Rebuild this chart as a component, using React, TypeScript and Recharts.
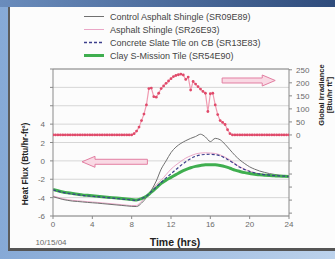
import React from 'react';
import { LineChart, Line, XAxis, YAxis, CartesianGrid, ReferenceLine, Legend, Label } from 'recharts';

// time of day (hrs), every half hour
const hours = [
  0, 0.5, 1, 1.5, 2, 2.5, 3, 3.5, 4, 4.5, 5, 5.5, 6, 6.5, 7, 7.5, 8, 8.5,
  9, 9.5, 10, 10.5, 11, 11.5, 12, 12.5, 13, 13.5, 14, 14.5, 15, 15.5, 16, 16.5,
  17, 17.5, 18, 18.5, 19, 19.5, 20, 20.5, 21, 21.5, 22, 22.5, 23, 23.5, 24,
];

// heat flux, Btu/hr-ft2
const controlAsphalt = [
  -3.9, -4.05, -4.2, -4.3, -4.38, -4.42, -4.47, -4.52, -4.56, -4.6, -4.65, -4.7, -4.75, -4.8, -4.85, -4.9, -4.95, -4.97,
  -4.6, -4.0, -3.2, -2.2, -0.9, 0.0, 0.9, 1.5, 1.9, 2.2, 2.45, 2.65, 2.9, 2.6, 2.1, 2.45,
  2.3, 1.8, 1.2, 0.6, 0.1, -0.3, -0.65, -0.9, -1.1, -1.25, -1.38, -1.47, -1.55, -1.6, -1.65,
];
const asphaltShingle = [
  -3.82, -3.97, -4.12, -4.22, -4.3, -4.34, -4.39, -4.44, -4.48, -4.52, -4.57, -4.62, -4.67, -4.72, -4.77, -4.82, -4.87, -4.85,
  -4.4, -3.85, -3.2, -2.6, -2.1, -1.5, -0.9, -0.45, -0.05, 0.3, 0.55, 0.75, 0.85, 0.88, 0.85, 0.8,
  0.65, 0.4, 0.1, -0.3, -0.65, -0.92, -1.12, -1.28, -1.4, -1.48, -1.54, -1.59, -1.62, -1.65, -1.68,
];
const concreteSlate = [
  -3.15, -3.3, -3.43, -3.53, -3.61, -3.68, -3.75, -3.8, -3.85, -3.9, -3.95, -4.0, -4.05, -4.1, -4.15, -4.2, -4.25, -4.3,
  -4.1, -3.85, -3.35, -2.85, -2.35, -1.85, -1.4, -0.95, -0.5, -0.1, 0.25, 0.5, 0.65, 0.7, 0.72, 0.68,
  0.55, 0.3, 0.0, -0.35, -0.7, -0.95, -1.15, -1.3, -1.42, -1.5, -1.55, -1.6, -1.63, -1.66, -1.7,
];
const claySMission = [
  -3.1, -3.25, -3.38, -3.48, -3.56, -3.63, -3.7, -3.75, -3.8, -3.85, -3.9, -3.95, -4.0, -4.05, -4.1, -4.15, -4.2, -4.25,
  -4.1, -3.85, -3.4, -2.95, -2.45, -2.1, -1.8, -1.5, -1.2, -0.95, -0.75, -0.6, -0.5, -0.43, -0.42, -0.43,
  -0.5, -0.62, -0.8, -1.0, -1.15, -1.28, -1.38, -1.45, -1.52, -1.56, -1.6, -1.63, -1.66, -1.68, -1.7,
];

// global irradiance, Btu/hr ft2, every quarter hour
const irrHours = [
  0, 0.25, 0.5, 0.75, 1, 1.25, 1.5, 1.75, 2, 2.25, 2.5, 2.75, 3, 3.25, 3.5, 3.75,
  4, 4.25, 4.5, 4.75, 5, 5.25, 5.5, 5.75, 6, 6.25, 6.5, 6.75, 7, 7.25, 7.5, 7.75, 8,
  8.25, 8.5, 8.75, 9, 9.25, 9.5, 9.75, 10, 10.25, 10.5, 10.75, 11, 11.25, 11.5, 11.75,
  12, 12.25, 12.5, 12.75, 13, 13.25, 13.5, 13.75, 14, 14.25, 14.5, 14.75, 15, 15.25, 15.5, 15.75,
  16, 16.25, 16.5, 16.75, 17, 17.25, 17.5, 17.75, 18, 18.25,
  18.5, 18.75, 19, 19.25, 19.5, 19.75, 20, 20.25, 20.5, 20.75, 21, 21.25, 21.5, 21.75,
  22, 22.25, 22.5, 22.75, 23, 23.25, 23.5, 23.75, 24,
];
const irradiance = [
  0, 0, 0, 0, 0, 0, 0, 0, 0, 0, 0, 0, 0, 0, 0, 0,
  0, 0, 0, 0, 0, 0, 0, 0, 0, 0, 0, 0, 0, 0, 0, 0, 0,
  5, 15, 30, 55, 80, 115, 178, 180, 147, 145, 160, 178, 188, 198, 207,
  216, 224, 228, 231, 233, 230, 213, 222, 172, 205, 195, 185, 176, 167, 160, 90,
  158, 160, 115, 78, 55, 48, 40, 20, 5, 0,
  0, 0, 0, 0, 0, 0, 0, 0, 0, 0, 0, 0, 0, 0,
  0, 0, 0, 0, 0, 0, 0, 0, 0,
];

const seriesNames = [
  'Control Asphalt Shingle (SR09E89)',
  'Asphalt Shingle (SR26E93)',
  'Concrete Slate Tile on CB (SR13E83)',
  'Clay S-Mission Tile (SR54E90)',
];

const timeTicks = [0, 4, 8, 12, 16, 20, 24];
const fluxTicks = [-6, -4, -2, 0, 2, 4, 6, 8, 10];
const fluxLabels = [-6, -4, -2, 0, 2, 4];
const irrTicks = [-300, -250, -200, -150, -100, -50, 0, 50, 100, 150, 200, 250];
const irrLabels = [0, 50, 100, 150, 200, 250];

const fluxData = hours.map((t, i) => ({
  t,
  control: controlAsphalt[i],
  asphalt: asphaltShingle[i],
  concrete: concreteSlate[i],
  clay: claySMission[i],
}));
const irrData = irrHours.map((t, i) => ({ t, irr: irradiance[i] }));

const FONT = 'Arial, "Liberation Sans", sans-serif';
const TICK = '#6a6a6a';

const legendStyles = [
  { stroke: '#707070', width: 1, dash: undefined },
  { stroke: '#eaa6c6', width: 1, dash: undefined },
  { stroke: '#3c3f8c', width: 1.3, dash: '3 2' },
  { stroke: '#3fae4f', width: 3, dash: undefined },
];

const renderLegend = () => (
  <div style={{ fontFamily: FONT, fontSize: 9, color: '#444' }}>
    {seriesNames.map((name, i) => (
      <div key={name} style={{ display: 'flex', alignItems: 'center', height: 13 }}>
        <svg width={24} height={13} style={{ marginRight: 4 }}>
          <line x1={2} y1={6.5} x2={22} y2={6.5} stroke={legendStyles[i].stroke}
            strokeWidth={legendStyles[i].width} strokeDasharray={legendStyles[i].dash} />
        </svg>
        <span>{name}</span>
      </div>
    ))}
  </div>
);

const LeftTick = (props: any) => {
  const { x, y, payload } = props;
  if (!fluxLabels.includes(payload.value)) return <g />;
  return (
    <text x={x} y={y} dy={3} textAnchor="end" fontSize={8} fill={TICK} fontFamily={FONT}>
      {payload.value}
    </text>
  );
};

const RightTick = (props: any) => {
  const { x, y, payload } = props;
  if (!irrLabels.includes(payload.value)) return <g />;
  return (
    <text x={x} y={y} dy={3} textAnchor="start" fontSize={8} fill={TICK} fontFamily={FONT}>
      {payload.value}
    </text>
  );
};

const BottomTick = (props: any) => {
  const { x, y, payload } = props;
  return (
    <text x={x} y={y} dy={6} textAnchor="middle" fontSize={8} fill={TICK} fontFamily={FONT}>
      {payload.value}
    </text>
  );
};

// hollow block arrow from (x1,y1) toward (x2,y2)
const Arrow = (props: any) => {
  const { x1, y1, x2 } = props;
  const dir = x2 > x1 ? 1 : -1;
  const head = 13;
  const sh = 2.5;
  const hh = 5.5;
  const bx = x2 - dir * head;
  const pts = [
    [x1, y1 - sh], [bx, y1 - sh], [bx, y1 - hh], [x2, y1], [bx, y1 + hh], [bx, y1 + sh], [x1, y1 + sh],
  ].map((p) => p.join(',')).join(' ');
  return <polygon points={pts} fill="#f9d9e4" stroke="#e27fa2" strokeWidth={1} />;
};

const App = () => {
  return (
    <div style={{ position: 'absolute', left: 0, top: 0, width: 335, height: 259, overflow: 'hidden',
      background: 'linear-gradient(to right, #86a9d6, #bcd2ec)' }}>
      <div style={{ position: 'absolute', left: 0, top: 0, width: 335, height: 7,
        background: 'linear-gradient(to right, #6a8cbc, #2f4c7c)' }} />
      <div style={{ position: 'absolute', left: 8, top: 7, width: 327, height: 244,
        background: '#fcfcfc', borderLeft: '2px solid #5c5c5c', borderBottom: '3px solid #555',
        boxSizing: 'border-box' }} />
      <div style={{ position: 'absolute', left: 0, top: 0 }}>
        <LineChart width={335} height={259} data={fluxData}
          margin={{ top: 69, right: 16, bottom: 23, left: 23 }}>
          <CartesianGrid yAxisId="left" vertical={false} stroke="#d6d6d6" />
          <XAxis dataKey="t" type="number" domain={[0, 24]} ticks={timeTicks} height={20}
            tick={<BottomTick />} tickSize={3} stroke="#8a8a8a" allowDataOverflow>
            <Label content={() => (
              <g fontFamily={FONT}>
                <text x={175} y={246} textAnchor="middle" fontSize={10.5} fontWeight="bold" fill="#222">Time (hrs)</text>
                <text x={51} y={245} textAnchor="middle" fontSize={8} fill={TICK}>10/15/04</text>
              </g>
            )} />
          </XAxis>
          <YAxis yAxisId="left" domain={[-6, 10]} ticks={fluxTicks} width={30} tickSize={3} tickMargin={5}
            tick={<LeftTick />} stroke="#8a8a8a" interval={0}>
            <Label content={() => (
              <text x={25} y={164} transform="rotate(-90 25 164)" textAnchor="middle" dominantBaseline="central"
                fontSize={8.5} fontWeight="bold" fill="#222" fontFamily={FONT}>
                Heat Flux (Btu/hr-ft²)
              </text>
            )} />
          </YAxis>
          <YAxis yAxisId="right" orientation="right" domain={[-311, 253]} ticks={irrTicks} width={30}
            tickSize={3} tickMargin={4} tick={<RightTick />} stroke="#8a8a8a" interval={0}>
            <Label content={() => (
              <g fontFamily={FONT} fontSize={7.5} fontWeight="bold" fill="#222">
                <text x={321} y={95} transform="rotate(-90 321 95)" textAnchor="middle" dominantBaseline="central">
                  Global Irradiance
                </text>
                <text x={329} y={95} transform="rotate(-90 329 95)" textAnchor="middle" dominantBaseline="central">
                  [Btu/hr ft²]
                </text>
              </g>
            )} />
          </YAxis>
          <ReferenceLine yAxisId="left" y={10} stroke="#8a8a8a" />
          {/* arrows point each group of curves to its axis */}
          <ReferenceLine yAxisId="left" segment={[{ x: 17.2, y: 8.75 }, { x: 22.6, y: 8.75 }]} shape={<Arrow />} />
          <ReferenceLine yAxisId="left" segment={[{ x: 9.6, y: -0.1 }, { x: 2.95, y: -0.1 }]} shape={<Arrow />} />
          <Legend layout="horizontal" verticalAlign="middle" align="center" content={renderLegend}
            wrapperStyle={{ top: 10, left: 82, width: 230 }} />
          <Line yAxisId="right" data={irrData} dataKey="irr" type="linear" stroke="#f09ab0" strokeWidth={1.2}
            dot={{ r: 1.4, fill: '#e04a6a', stroke: 'none' }} isAnimationActive={false} />
          <Line yAxisId="left" dataKey="asphalt" type="monotone" stroke="#eaa6c6" strokeWidth={1}
            dot={false} isAnimationActive={false} />
          <Line yAxisId="left" dataKey="control" type="monotone" stroke="#707070" strokeWidth={1}
            dot={false} isAnimationActive={false} />
          <Line yAxisId="left" dataKey="clay" type="monotone" stroke="#3fae4f" strokeWidth={3}
            dot={false} isAnimationActive={false} />
          <Line yAxisId="left" dataKey="concrete" type="monotone" stroke="#3c3f8c" strokeWidth={1.2}
            strokeDasharray="3 2" dot={false} isAnimationActive={false} />
        </LineChart>
      </div>
    </div>
  );
};

export default App;
